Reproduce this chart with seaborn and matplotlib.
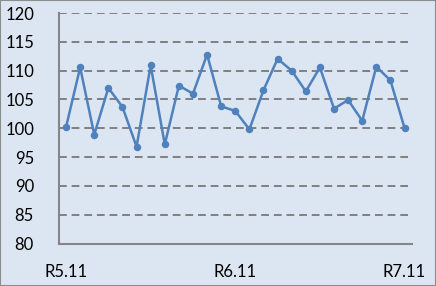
import matplotlib
matplotlib.use("Agg")
import matplotlib.pyplot as plt
import seaborn as sns
import pandas as pd

values = [100.2, 110.55, 98.9, 107.0, 103.7, 96.8, 110.9, 97.2, 107.4, 106.0,
          112.8, 103.8, 103.0, 99.8, 106.6, 112.05, 110.0, 106.4, 110.55, 103.4,
          104.9, 101.3, 110.7, 108.3, 100.05]
tick_labels = {0: "R5.11", 12: "R6.11", 24: "R7.11"}
y_ticks = [80, 85, 90, 95, 100, 105, 110, 115, 120]

sns.set_theme(style="white")
plt.rcParams['font.family'] = ['Lato', 'DejaVu Sans']

bg = "#dce6f2"
fig = plt.figure(figsize=(4.36, 2.86), dpi=100, facecolor=bg)
fig.patches.append(plt.Rectangle((0, 0), 1, 1, transform=fig.transFigure,
                                 fill=False, edgecolor="#8c8c8c", linewidth=1.5))
ax = fig.add_axes([0.1353, 0.1486, 0.944 - 0.1353, 0.9545 - 0.1486])
ax.set_facecolor(bg)

df = pd.DataFrame({"x": range(len(values)), "y": values})
sns.lineplot(data=df, x="x", y="y", ax=ax, color="#4f81bd", linewidth=1.8,
             marker="o", markersize=5.4, markeredgewidth=0, markeredgecolor="#4f81bd")

ax.set_xlim(-0.5, len(values) - 0.5)
ax.set_ylim(80, 120)
ax.set_yticks(y_ticks)
ax.set_yticklabels([str(v) for v in y_ticks])
ax.set_xticks(list(tick_labels.keys()))
ax.set_xticklabels(list(tick_labels.values()))
ax.set_xlabel("")
ax.set_ylabel("")
ax.tick_params(axis="y", length=0, pad=18, labelsize=12, labelcolor="black")
ax.tick_params(axis="x", length=0, pad=15, labelsize=12, labelcolor="black")

for v in y_ticks[1:]:
    ax.axhline(v, color="#808080", linestyle=(0, (4, 2.5)), linewidth=1.4, zorder=0)

for s in ["top", "right"]:
    ax.spines[s].set_visible(False)
for s in ["left", "bottom"]:
    ax.spines[s].set_color("#868686")
    ax.spines[s].set_linewidth(1.5)

fig.savefig("out.png", dpi=100, facecolor=bg)
